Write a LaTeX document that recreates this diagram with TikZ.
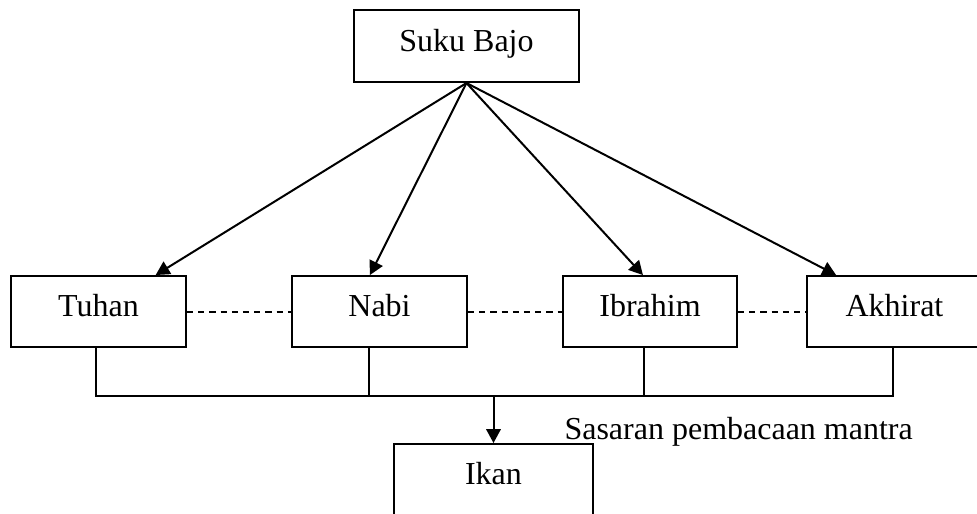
\documentclass[tikz,border=0pt]{standalone}
\usepackage{fontspec}
\setmainfont{Liberation Serif}
\usetikzlibrary{arrows.meta,positioning,calc}
\tikzset{
  conceptbox/.style={draw, line width=0.75pt, inner sep=0pt, align=center,
    font=\fontsize{12}{14}\selectfont, text height=8pt, text depth=4.1pt,
    minimum width=65.6pt, minimum height=26.6pt},
  arr/.style={-{Triangle[length=5.2pt,width=5.4pt]}, line width=0.75pt},
  link/.style={line width=0.75pt, dash pattern=on 2.3pt off 1.9pt},
  wire/.style={line width=0.75pt}
}

\begin{document}
\begin{tikzpicture}[x=0.375pt, y=-0.375pt]
    \useasboundingbox (0,0) rectangle (977,513);
    \node[conceptbox, minimum width=84.4pt, minimum height=27pt] (bajo) at (466.5,46) {Suku Bajo};
    \node[conceptbox] (tuhan) at (98.5,311.5) {Tuhan};
    \node[conceptbox] (nabi) at (379.5,311.5) {Nabi};
    \node[conceptbox, minimum width=65.3pt] (ibrahim) at (650,311.5) {Ibrahim};
    \node[conceptbox] (akhirat) at (894.5,311.5) {Akhirat};
    \node[conceptbox, minimum width=74.6pt] (ikan) at (493.5,479.5) {Ikan};
    \node[font=\fontsize{12}{14}\selectfont, inner sep=0pt, anchor=base west] (sasaran) at (564,439) {Sasaran pembacaan mantra};
    % panah dari Suku Bajo
    \draw[arr] (bajo.south) -- ($(tuhan.north west)!0.823!(tuhan.north east)$);
    \draw[arr] (bajo.south) -- ($(nabi.north west)!0.446!(nabi.north east)$);
    \draw[arr] (bajo.south) -- ($(ibrahim.north west)!0.46!(ibrahim.north east)$);
    \draw[arr] (bajo.south) -- ($(akhirat.north west)!0.17!(akhirat.north east)$);
    % garis putus-putus
    \draw[link] (tuhan.east) -- (nabi.west);
    \draw[link] (nabi.east) -- (ibrahim.west);
    \draw[link] (ibrahim.east) -- (akhirat.west);
    % garis penghubung ke Ikan
    \coordinate (d1) at (96,396);
    \coordinate (d2) at (369,396);
    \coordinate (d3) at (644,396);
    \coordinate (d4) at (893,396);
    \draw[wire] (tuhan.south -| d1) -- (d1) -- (d4) -- (akhirat.south -| d4);
    \draw[wire] (nabi.south -| d2) -- (d2);
    \draw[wire] (ibrahim.south -| d3) -- (d3);
    \draw[arr] (d1 -| ikan.north) -- (ikan.north);
  \end{tikzpicture}
\end{document}
